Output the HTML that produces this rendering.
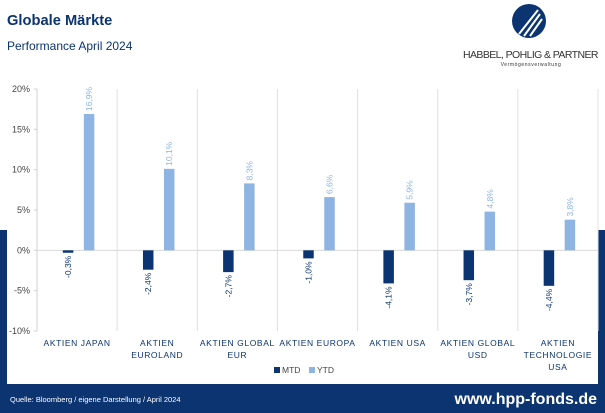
<!DOCTYPE html>
<html><head><meta charset="utf-8"><style>
body{margin:0;width:605px;height:413px;overflow:hidden;background:#fff;font-family:"Liberation Sans",sans-serif;position:relative}
.band{position:absolute;left:0;top:230px;width:605px;height:183px;background:#0b3470}
.card{position:absolute;left:7px;top:0;width:591px;height:384px;background:#fff}
svg{position:absolute;left:0;top:0}
</style></head><body>
<div class="band"></div>
<div class="card"></div>
<svg width="605" height="413">
<text x="7" y="25" font-size="14.7" font-weight="bold" fill="#0b3470">Globale Märkte</text>
<text x="7" y="50" font-size="12" fill="#0b3470">Performance April 2024</text>
<g>
<circle cx="529" cy="21" r="17" fill="#0b3470"/>
<path d="M519 34 L538 10 M524 36 L540 14 M530 36 L542 19" stroke="#fff" stroke-width="2"/>
<text x="531" y="58" font-size="10.5" text-anchor="middle" fill="#333" letter-spacing="0.5" textLength="136">HABBEL, POHLIG &amp; PARTNER</text>
<text x="531" y="66" font-size="5" text-anchor="middle" fill="#333" letter-spacing="0.6">Vermögensverwaltung</text>
</g>
<g id="plot"></g>
<text x="10" y="402" font-size="7.5" fill="#fff">Quelle: Bloomberg / eigene Darstellung / April 2024</text>
<text x="597" y="404" font-size="16" font-weight="bold" fill="#fff" text-anchor="end">www.hpp-fonds.de</text>
</svg>
<script>
const categories=[["AKTIEN JAPAN"],["AKTIEN","EUROLAND"],["AKTIEN GLOBAL","EUR"],["AKTIEN EUROPA"],["AKTIEN USA"],["AKTIEN GLOBAL","USD"],["AKTIEN","TECHNOLOGIE","USA"]];
const mtd=[-0.3,-2.4,-2.7,-1.0,-4.1,-3.7,-4.4];
const ytd=[16.9,10.1,8.3,6.6,5.9,4.8,3.8];
const ticks=[20,15,10,5,0,-5,-10];
const NS="http://www.w3.org/2000/svg";
const g=document.getElementById('plot');
const L=37,R=598,T=89,B=331;
const y=v=>T+(20-v)/30*(B-T);
const cw=(R-L)/categories.length;
const x=i=>L+i*cw;
function mk(t,a,txt){const e=document.createElementNS(NS,t);for(const k in a)e.setAttribute(k,a[k]);if(txt!==undefined)e.textContent=txt;g.appendChild(e);return e;}
const fmt=v=>v.toFixed(1).replace('.',',')+'%';
ticks.forEach(t=>{
const e=mk('text',{x:30,y:y(t)+3,'font-size':9,'text-anchor':'end',fill:'#444'},t+'%');


mk('line',{x1:L-3,x2:L,y1:y(t),y2:y(t),stroke:'#d0d0d0'});
});
mk('line',{x1:L,x2:L,y1:T,y2:B,stroke:'#d0d0d0'});
for(let i=1;i<=categories.length;i++)mk('line',{x1:x(i),x2:x(i),y1:T,y2:B,stroke:'#e0e0e0'});
mk('line',{x1:L,x2:R,y1:y(0),y2:y(0),stroke:'#d9d9d9'});
categories.forEach((c,i)=>{
const cx=x(i)+cw/2, bw=10.5;
const m=mk('rect',{x:cx-9-bw/2,y:y(0),width:bw,height:y(mtd[i])-y(0),fill:'#0b3470'});


const yb=mk('rect',{x:cx+12-bw/2,y:y(ytd[i]),width:bw,height:y(0)-y(ytd[i]),fill:'#8eb4e3'});


const lx=cx-9+3, ly=y(mtd[i])+3;
const ml=mk('text',{x:0,y:0,'font-size':8.5,fill:'#0b3470','text-anchor':'end',transform:`translate(${lx},${ly}) rotate(-90)`},fmt(mtd[i]));


const yx=cx+12+3, yy=y(ytd[i])-3;
const yl=mk('text',{x:0,y:0,'font-size':8.5,fill:'#8eb4e3','text-anchor':'start',transform:`translate(${yx},${yy}) rotate(-90)`},fmt(ytd[i]));


c.forEach((ln,j)=>{
const t=mk('text',{x:cx,y:346+j*12,'font-size':8.5,fill:'#0b3470','text-anchor':'middle','letter-spacing':'0.6'},ln);


});
});
const l1=mk('rect',{x:274,y:367,width:6,height:6,fill:'#0b3470'});


mk('text',{x:282,y:373,'font-size':8.5,fill:'#444'},'MTD');
const l2=mk('rect',{x:309,y:367,width:6,height:6,fill:'#8eb4e3'});


mk('text',{x:317,y:373,'font-size':8.5,fill:'#444'},'YTD');
</script>
</body></html>
